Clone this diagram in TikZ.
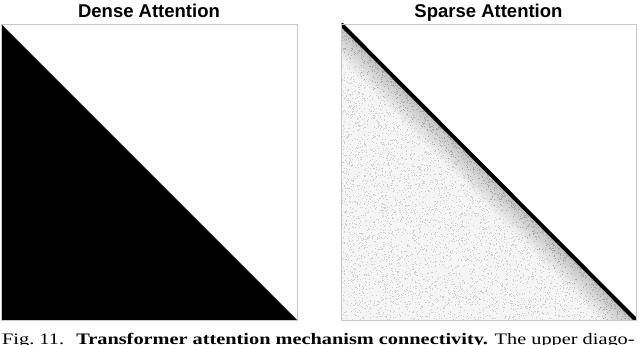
\documentclass[tikz,border=0pt]{standalone}
\usepackage{fontspec}
\setmainfont{Liberation Serif}
\newfontfamily\titlefont{Liberation Sans}
\begin{document}
\begin{tikzpicture}[x=1pt,y=-1pt,
  panel/.style={draw=black!22, line width=0.8pt},
  title/.style={font=\titlefont\bfseries\fontsize{18.5}{18.5}\selectfont, anchor=base},
  speck/.style={fill=black!19},
  darkspeck/.style={fill=black!34},
  band/.style={fill=black, opacity=0.011}]
\useasboundingbox (0,0) rectangle (640,345);
\fill[white] (0,0) rectangle (640,345);
% ---------- left panel: dense ----------
\coordinate (LTL) at (1,24);
\coordinate (LBR) at (297,320);
\coordinate (LBL) at (1,320);
\fill[black] (LTL) -- (LBR) -- (LBL) -- cycle;
\draw[panel] (LTL) rectangle (LBR);
\node[title] (t1) at (149,17.5) {Dense Attention};
% ---------- right panel: sparse ----------
\coordinate (RTL) at (341,24);
\coordinate (RBR) at (636,320);
\coordinate (RBL) at (341,320);
\begin{scope}
  \clip (RTL) -- (RBR) -- (RBL) -- cycle;
  \fill[black!4] (RTL) -- (RBR) -- (RBL) -- cycle;
  \foreach \k in {2,4,...,36} {
    \fill[band] (341,24) -- (636,320) -- (636-\k,320) -- (341,24+\k) -- cycle;
  }
  \pgfmathsetseed{7}
  \foreach \i in {1,...,5000} {
    \pgfmathsetmacro{\u}{rnd*295}
    \pgfmathsetmacro{\v}{rnd*296}
    \pgfmathsetmacro{\a}{min(\u,\v)}
    \pgfmathsetmacro{\b}{max(\u,\v)}
    \fill[speck] (341+\a,24+\b) rectangle ++(0.7,0.7);
  }
  \pgfmathsetseed{11}
  \foreach \i in {1,...,1600} {
    \pgfmathsetmacro{\s}{rnd*295}
    \pgfmathsetmacro{\t}{rnd*rnd*36}
    \fill[darkspeck] (341+\s-\t*0.5,24+\s+\t*0.5) rectangle ++(0.7,0.7);
  }
\end{scope}
\begin{scope}
  \clip (RTL) rectangle (RBR);
  \draw[line width=4pt, line cap=butt] (RTL) -- (RBR);
\end{scope}
\draw[panel] (RTL) rectangle (RBR);
\node[title] (t2) at (488.5,17.5) {Sparse Attention};
% ---------- caption ----------
\node[anchor=base west, inner sep=0pt, font=\fontsize{16}{16}\selectfont] (cap) at (2,344.5)
  {\scalebox{1.27}[1]{Fig.~11.\hspace{0.6em}\textbf{Transformer attention mechanism connectivity.} The upper diago-}};
\end{tikzpicture}
\end{document}
